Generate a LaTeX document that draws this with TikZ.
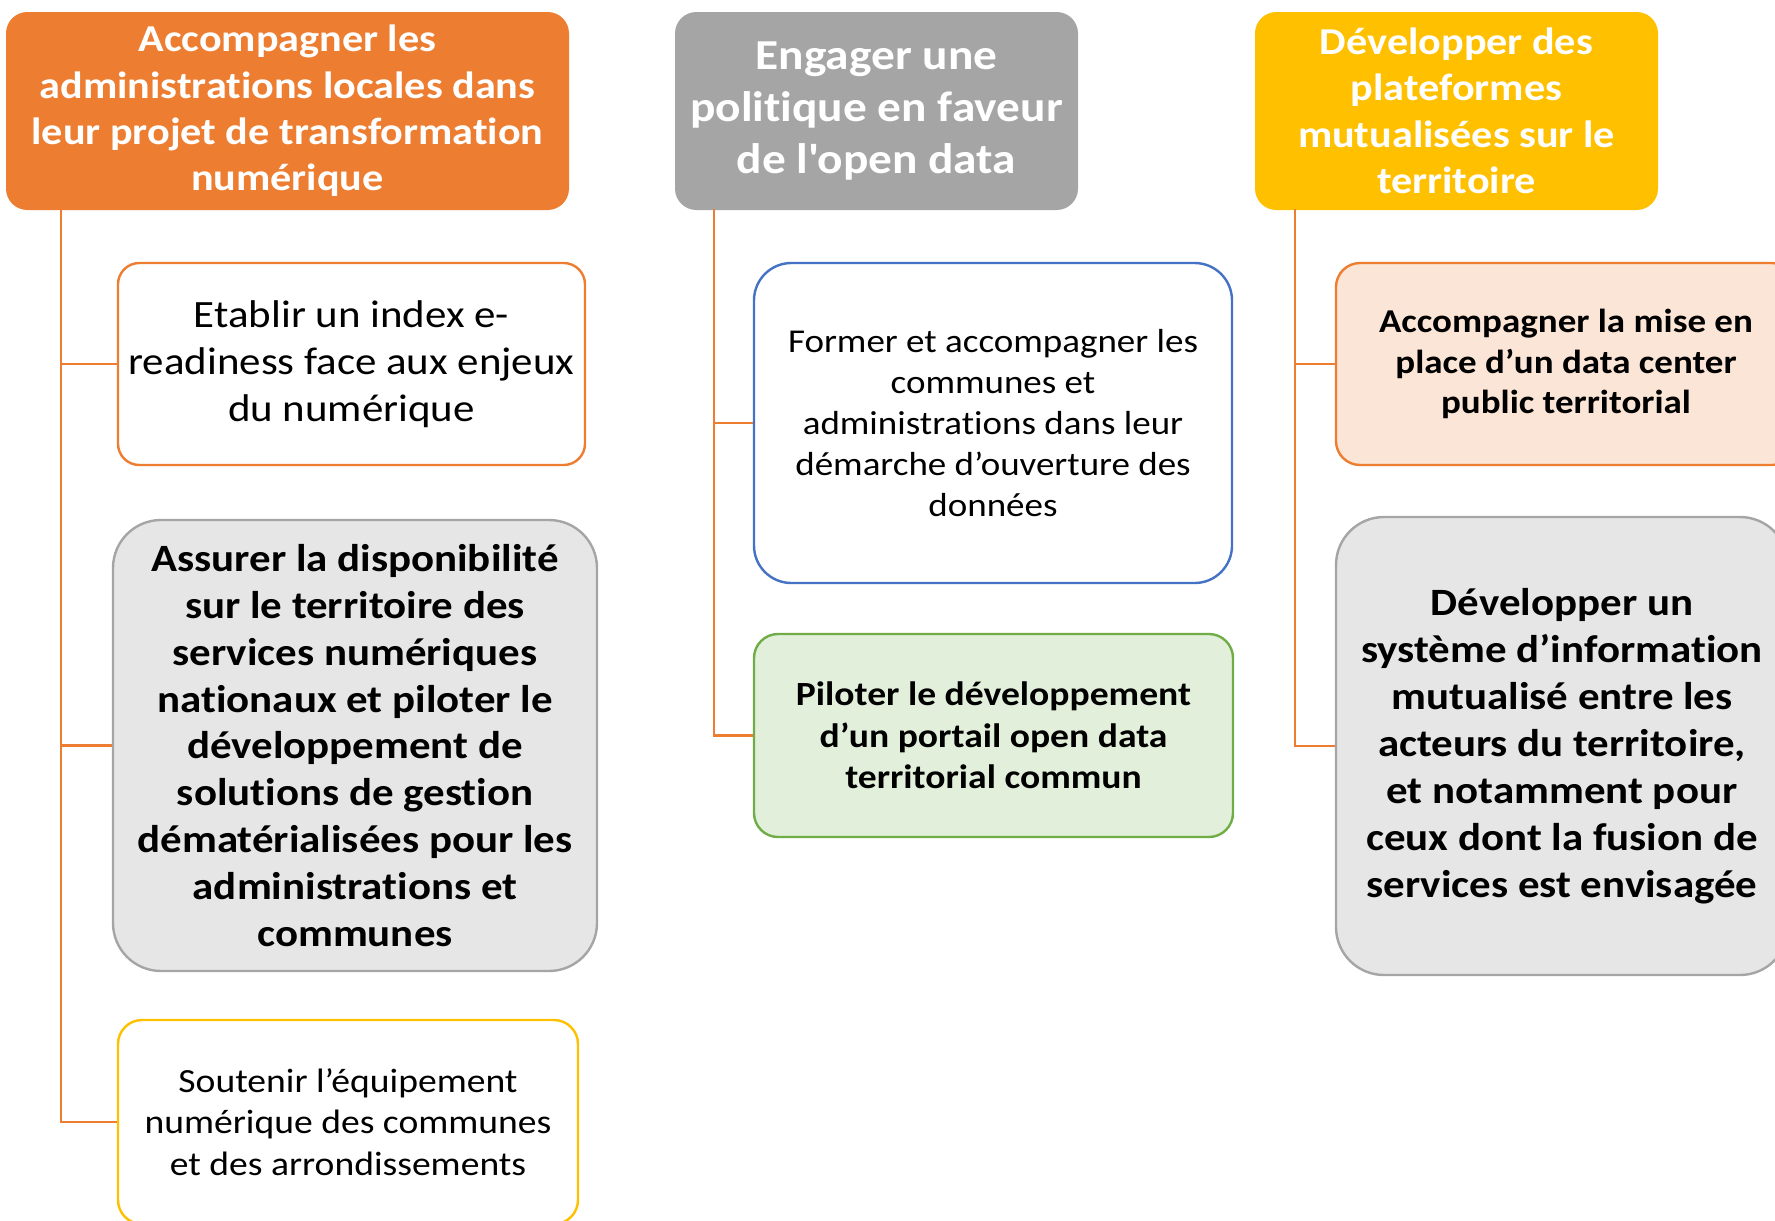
\documentclass[tikz,border=0pt]{standalone}
\usepackage{fontspec}
\setmainfont{Carlito}[FakeStretch=1.11, Ligatures={TeXOff,NoCommon}]
\definecolor{corange}{HTML}{ED7D31}
\definecolor{cgrey}{HTML}{A5A5A5}
\definecolor{cyellow}{HTML}{FFC000}
\definecolor{cblue}{HTML}{4472C4}
\definecolor{cgreen}{HTML}{70AD47}
\definecolor{cgreenfill}{HTML}{E2EFDA}
\definecolor{cpeach}{HTML}{FBE5D6}
\definecolor{clight}{HTML}{E7E6E6}
\begin{document}
\begin{tikzpicture}[x=0.75pt,y=-0.75pt,
  hdr/.style={rounded corners=16pt, text=white, align=center, inner sep=0pt,
    minimum width=302.25pt, minimum height=148.5pt},
  item/.style={draw, line width=1.8pt, align=center, inner sep=0pt, text=black},
  conn/.style={draw=corange, line width=1.8pt}]
\useasboundingbox (0,0) rectangle (1775,1221);
\clip (0,0) rectangle (1775,1221);

% headers
\node[hdr, fill=corange, minimum width=422.25pt, font=\fontsize{28.5}{34.8}\selectfont\bfseries] (h1) at (287.5,111)
  {Accompagner les\\administrations locales dans\\leur projet de transformation\\numérique};
\node[hdr, fill=cgrey, font=\fontsize{32}{39}\selectfont\bfseries] (h2) at (876.5,111)
  {Engager une\\politique en faveur\\de l'open data};
\node[hdr, fill=cyellow, font=\fontsize{28.5}{34.8}\selectfont\bfseries] (h3) at (1456.5,111)
  {Développer des\\plateformes\\mutualisées sur le\\territoire};

% left column
\node[item, draw=corange, fill=white, rounded corners=16pt, minimum width=350.25pt, minimum height=151.5pt,
  font=\fontsize{29}{35.2}\selectfont] (L1) at (351.5,364)
  {Etablir un index e-\\readiness face aux enjeux\\du numérique};
\node[item, draw=cgrey, fill=clight, rounded corners=36pt, minimum width=363pt, minimum height=338.25pt,
  font=\fontsize{29}{35.2}\selectfont\bfseries] (L2) at (355,745.5)
  {Assurer la disponibilité\\sur le territoire des\\services numériques\\nationaux et piloter le\\développement de\\solutions de gestion\\dématérialisées pour les\\administrations et\\communes};
\node[item, draw=cyellow, fill=white, rounded corners=18pt, minimum width=345pt, minimum height=153pt,
  font=\fontsize{25.4}{31}\selectfont] (L3) at (348,1122)
  {Soutenir l’équipement\\numérique des communes\\et des arrondissements};

% middle column
\node[item, draw=cblue, fill=white, rounded corners=28pt, minimum width=358.5pt, minimum height=240pt,
  font=\fontsize{25}{30.75}\selectfont] (M1) at (993,423)
  {Former et accompagner les\\communes et\\administrations dans leur\\démarche d’ouverture des\\données};
\node[item, draw=cgreen, fill=cgreenfill, rounded corners=18pt, minimum width=359.25pt, minimum height=152.25pt,
  font=\fontsize{25.4}{31}\selectfont\bfseries] (M2) at (993.5,735.5)
  {Piloter le développement\\d’un portail open data\\territorial commun};

% right column
\node[item, draw=corange, fill=cpeach, rounded corners=18pt, minimum width=345pt, minimum height=151.5pt,
  font=\fontsize{25}{30.6}\selectfont\bfseries] (R1) at (1566,364)
  {Accompagner la mise en\\place d’un data center\\public territorial};
\node[item, draw=cgrey, fill=clight, rounded corners=36pt, minimum width=339pt, minimum height=343.5pt,
  font=\fontsize{29}{35.2}\selectfont\bfseries] (R2) at (1562,746)
  {Développer un\\système d’information\\mutualisé entre les\\acteurs du territoire,\\et notamment pour\\ceux dont la fusion de\\services est envisagée};

% trunks
\coordinate (t1) at (61,209);
\coordinate (t2) at (714,209);
\coordinate (t3) at (1295,209);
\draw[conn] (t1) |- (L1.west);
\draw[conn] (t1) |- (L2.west);
\draw[conn] (t1) |- (L3.west);
\draw[conn] (t2) |- (M1.west);
\draw[conn] (t2) |- (M2.west);
\draw[conn] (t3) |- (R1.west);
\draw[conn] (t3) |- (R2.west);
\end{tikzpicture}
\end{document}
